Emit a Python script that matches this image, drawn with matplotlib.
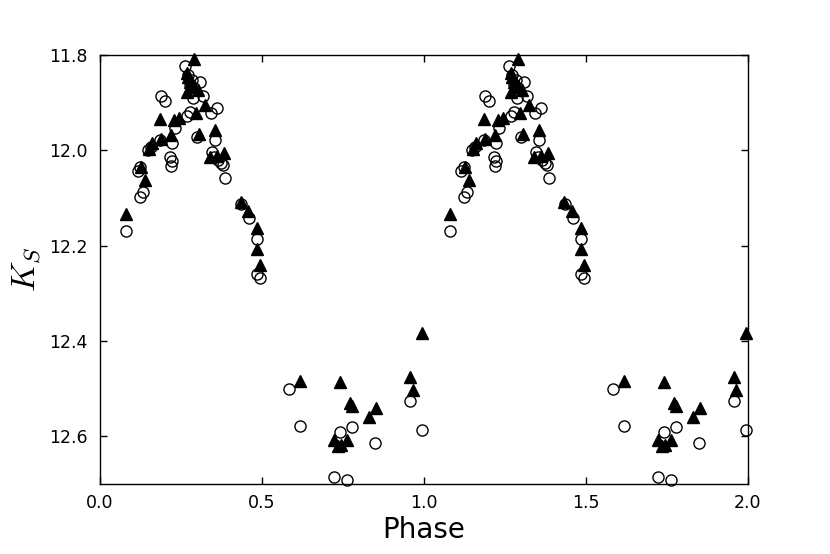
import matplotlib
matplotlib.use("Agg")
import matplotlib.pyplot as plt
import numpy as np

plt.rcParams['mathtext.fontset'] = 'cm'

# open circles
phase_c = [0.080, 0.116, 0.123, 0.123, 0.134, 0.149, 0.157, 0.188, 0.201, 0.185,
           0.217, 0.221, 0.219, 0.223, 0.231, 0.268, 0.278, 0.262, 0.273, 0.278,
           0.291, 0.284, 0.309, 0.318, 0.286, 0.360, 0.342, 0.300, 0.356, 0.345,
           0.352, 0.364, 0.373, 0.381, 0.386, 0.435, 0.460, 0.486, 0.484, 0.494,
           0.584, 0.617, 0.722, 0.762, 0.741, 0.778, 0.849, 0.957, 0.994]
mag_c = [12.170, 12.044, 12.035, 12.098, 12.088, 11.999, 11.993, 11.885, 11.896, 11.978,
         12.013, 12.022, 12.032, 11.984, 11.954, 11.929, 11.919, 11.823, 11.842, 11.861,
         11.870, 11.852, 11.856, 11.887, 11.891, 11.912, 11.922, 11.972, 11.979, 12.003,
         12.014, 12.020, 12.026, 12.030, 12.057, 12.112, 12.143, 12.185, 12.259, 12.268,
         12.501, 12.578, 12.685, 12.692, 12.591, 12.581, 12.615, 12.525, 12.587]

# filled triangles
phase_t = [0.080, 0.126, 0.139, 0.152, 0.161, 0.186, 0.188, 0.219, 0.229, 0.243,
           0.289, 0.269, 0.273, 0.278, 0.284, 0.269, 0.302, 0.296, 0.323, 0.306,
           0.355, 0.340, 0.360, 0.384, 0.434, 0.456, 0.485, 0.484, 0.494,
           0.617, 0.741, 0.772, 0.777, 0.830, 0.851, 0.722, 0.735, 0.744, 0.762,
           0.957, 0.965, 0.994]
mag_t = [12.134, 12.034, 12.062, 11.997, 11.985, 11.935, 11.976, 11.968, 11.936, 11.933,
         11.809, 11.838, 11.846, 11.857, 11.865, 11.877, 11.873, 11.922, 11.905, 11.965,
         11.957, 12.014, 12.012, 12.005, 12.108, 12.127, 12.162, 12.208, 12.240,
         12.484, 12.487, 12.531, 12.537, 12.560, 12.541, 12.608, 12.621, 12.619, 12.608,
         12.476, 12.503, 12.384]

# two cycles
pc = np.concatenate([phase_c, np.array(phase_c) + 1])
mc = np.concatenate([mag_c, mag_c])
pt = np.concatenate([phase_t, np.array(phase_t) + 1])
mt = np.concatenate([mag_t, mag_t])

fig = plt.figure(figsize=(8.3, 5.54), dpi=100)
ax = fig.add_axes([0.1205, 0.1264, 0.7805, 0.7743])

ax.plot(pc, mc, 'o', mfc='none', mec='black', mew=1.0, ms=8, clip_on=False)
ax.plot(pt, mt, '^', color='black', mec='black', ms=8, clip_on=False)

ax.set_xlim(0, 2)
ax.set_ylim(12.7, 11.8)
ax.set_xticks([0.0, 0.5, 1.0, 1.5, 2.0])
ax.set_yticks([11.8, 12.0, 12.2, 12.4, 12.6])
ax.tick_params(direction='in', top=True, right=True, length=5, width=1, labelsize=12.5)
ax.tick_params(axis='y', pad=9)
ax.tick_params(axis='x', pad=7)
for s in ax.spines.values():
    s.set_linewidth(1.0)

ax.set_xlabel('Phase', fontsize=20, labelpad=3)
ax.set_ylabel('$K_S$', fontsize=24, labelpad=4)

fig.savefig('out.png', dpi=100)
